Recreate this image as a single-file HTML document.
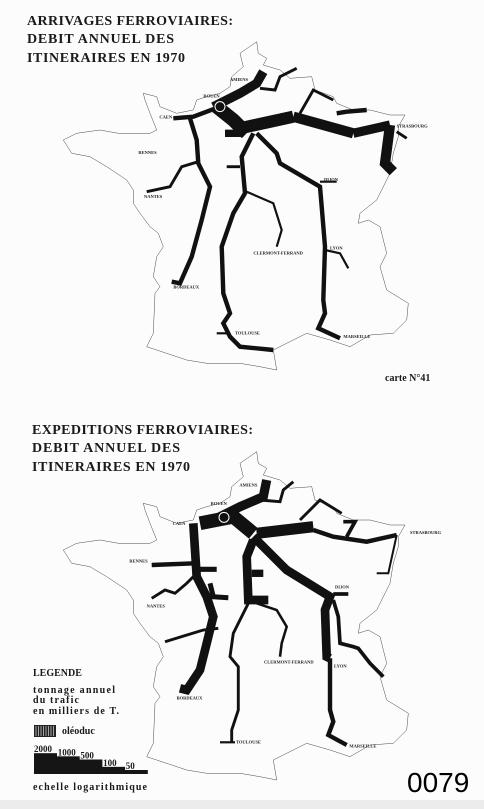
<!DOCTYPE html>
<html><head><meta charset="utf-8">
<style>
html,body{margin:0;padding:0;background:#fcfcfc;}
svg{display:block;}
.t{font-family:"Liberation Serif",serif;font-weight:bold;fill:#1a1a1a;}
.lab{font-family:"Liberation Serif",serif;font-size:4.5px;font-weight:bold;fill:#222;}
</style></head>
<body>
<svg id="svg" width="484" height="809" viewBox="0 0 484 809" xmlns="http://www.w3.org/2000/svg">
<rect width="484" height="809" fill="#fcfcfc"/>
<rect y="800" width="484" height="9" fill="#ececec"/>

<text class="t" x="27" y="25" font-size="14" textLength="206">ARRIVAGES FERROVIAIRES:</text>
<text class="t" x="27" y="43" font-size="14" textLength="147">DEBIT ANNUEL DES</text>
<text class="t" x="27" y="62" font-size="14" textLength="158">ITINERAIRES EN 1970</text>

<text class="t" x="32" y="434" font-size="14" textLength="221">EXPEDITIONS FERROVIAIRES:</text>
<text class="t" x="32" y="452" font-size="14" textLength="148">DEBIT ANNUEL DES</text>
<text class="t" x="32" y="471" font-size="14" textLength="158">ITINERAIRES EN 1970</text>

<text class="t" x="385" y="381" font-size="10">carte N°41</text>

<g id="topmap"></g>
<g id="botmap" transform="translate(0,410)"></g>

<g>
<text class="t" x="33" y="676" font-size="10">LEGENDE</text>
<text class="t" x="33" y="693" font-size="10" textLength="82">tonnage annuel</text>
<text class="t" x="33" y="703" font-size="10" textLength="46">du trafic</text>
<text class="t" x="33" y="714" font-size="10" textLength="86">en milliers de T.</text>
<rect x="34" y="725" width="22" height="12" fill="#222"/>
<g stroke="#ddd" stroke-width="0.7">
<line x1="36" y1="726" x2="36" y2="736"/><line x1="38.5" y1="726" x2="38.5" y2="736"/><line x1="41" y1="726" x2="41" y2="736"/><line x1="43.5" y1="726" x2="43.5" y2="736"/><line x1="46" y1="726" x2="46" y2="736"/><line x1="48.5" y1="726" x2="48.5" y2="736"/><line x1="51" y1="726" x2="51" y2="736"/><line x1="53.5" y1="726" x2="53.5" y2="736"/>
</g>
<text class="t" x="62" y="734" font-size="10">oléoduc</text>
<g id="scale"></g>
<text class="t" x="33" y="790" font-size="10" textLength="114">echelle logarithmique</text>
</g>

<text x="407" y="792" font-family="Liberation Sans, sans-serif" font-size="28" fill="#000">0079</text>
</svg>
<script>
// France outline (map coordinates, 3x units)
const outline = [[770,125],[775,160],[800,175],[790,195],[840,210],[870,235],[935,230],[945,270],[1000,290],[1010,310],[1060,330],[1110,330],[1170,345],[1215,345],[1195,380],[1195,410],[1180,460],[1170,520],[1130,600],[1080,640],[1075,670],[1105,660],[1140,680],[1160,760],[1140,800],[1160,870],[1225,910],[1220,960],[1180,1000],[1110,1005],[1050,1040],[990,1020],[920,1000],[860,1030],[820,1050],[830,1110],[780,1100],[720,1090],[620,1090],[560,1080],[470,1050],[440,1040],[460,1000],[465,880],[480,860],[460,830],[470,770],[490,740],[475,700],[450,680],[420,640],[400,610],[400,570],[380,540],[320,500],[270,470],[215,460],[190,420],[230,400],[300,390],[355,400],[430,400],[450,400],[470,390],[450,340],[435,300],[430,280],[470,290],[480,320],[530,340],[580,330],[590,300],[620,290],[660,280],[690,260],[695,230],[730,200],[720,160],[770,125]];

// Routes: tonnage (thousand T) per itinerary
const topTonnage = [800,2000,1500,1000,800,200,200,200,200,100,100,100,200,1000,60,100,60,60,60,100,500];
const topRoutes = [
 [[640,320],[720,280],[770,250],[790,215]],
 [[650,320],[700,360],[740,400]],
 [[720,385],[880,350]],
 [[880,350],[1060,400]],
 [[1060,400],[1170,375]],
 [[520,355],[580,350],[660,320]],
 [[570,355],[590,420],[595,490],[630,560],[605,660],[575,770],[540,850],[515,845]],
 [[760,400],[725,470],[735,580],[700,640],[665,740],[670,880],[690,940],[670,970],[690,1010],[720,1040],[820,1050]],
 [[770,400],[830,460],[840,490],[960,560],[965,620],[975,740],[970,900],[975,940],[955,985],[1020,1015]],
 [[440,575],[510,560],[545,500],[595,485]],
 [[780,265],[825,270],[840,230],[890,205]],
 [[900,340],[940,270],[1000,300]],
 [[1010,340],[1040,335],[1100,330]],
 [[1170,375],[1155,490],[1180,515]],
 [[740,575],[820,610],[845,690],[830,740]],
 [[680,500],[720,500]],
 [[975,750],[1020,760],[1045,805]],
 [[650,1000],[690,1000]],
 [[960,545],[1010,545]],
 [[1190,395],[1220,415]],
 [[675,400],[730,400]]
];
const botTonnage = [800,2000,700,200,100,250,100,250,200,1200,700,100,40,80,150,700,200,150,100,100,150,500,60];
const botRoutes = [
 [[640,330],[720,290],[790,260],[800,210]],
 [[600,340],[700,320],[760,370]],
 [[580,340],[590,500],[620,560],[640,620],[620,700],[600,780],[560,840],[540,835]],
 [[455,465],[585,460]],
 [[455,565],[495,540],[525,550],[560,520],[590,490]],
 [[630,520],[640,560],[685,563]],
 [[495,695],[610,660],[655,655]],
 [[600,478],[650,478]],
 [[940,360],[1000,380],[1100,395],[1190,375]],
 [[770,370],[940,350]],
 [[760,390],[740,440],[745,570],[805,570]],
 [[745,580],[700,670],[690,740],[715,770],[715,900],[695,960],[695,995]],
 [[1190,375],[1165,490],[1130,490]],
 [[770,580],[830,600],[860,650],[845,700],[840,740]],
 [[1000,570],[1015,620],[1020,700],[1060,710],[1075,715],[1110,760],[1150,800]],
 [[760,380],[850,470],[860,480],[990,560],[975,600],[980,740],[990,745]],
 [[990,745],[990,800],[990,900],[1000,935],[985,975],[1040,1005]],
 [[1000,552],[1045,552]],
 [[780,270],[840,275],[850,240],[880,215]],
 [[900,330],[960,270],[1025,310]],
 [[1030,335],[1065,335],[1040,380]],
 [[755,490],[790,490]],
 [[660,997],[705,997]]
];
const scaleValues = [2000,1000,500,100,50];
const scaleLabels = ["2000","1000","500","100","50"];

const NS = "http://www.w3.org/2000/svg";
function widthFor(t){ // log scale of tonnage -> stroke width (map units)
  const r = Math.max(0, Math.log10(t) - Math.log10(50));
  return 6 + r*6 + r*r*10;
}
function ptsStr(p){ return p.map(q => (q[0]/3).toFixed(1)+","+(q[1]/3).toFixed(1)).join(" "); }

function drawMap(gId, routes, tons, labels, circle){
  const g = document.getElementById(gId);
  const o = document.createElementNS(NS,"polygon");
  
  
  o.setAttribute("points", ptsStr(outline));
  o.setAttribute("fill","none"); o.setAttribute("stroke","#333"); o.setAttribute("stroke-width","0.45");
  g.appendChild(o);
  routes.forEach((r,i) => {
    const l = document.createElementNS(NS,"polyline");
    
    
    l.setAttribute("points", ptsStr(r));
    l.setAttribute("fill","none"); l.setAttribute("stroke","#111");
    l.setAttribute("stroke-width",(widthFor(tons[i])/3).toFixed(2));
    l.setAttribute("stroke-linejoin","miter");
    g.appendChild(l);
  });
  labels.forEach(lb => {
    const t = document.createElementNS(NS,"text");
    
    
    t.setAttribute("class","lab"); t.setAttribute("x",lb[1]/3); t.setAttribute("y",lb[2]/3);
    t.textContent = lb[0];
    g.appendChild(t);
  });
  const c = document.createElementNS(NS,"circle");
  
  
  c.setAttribute("cx",circle[0]/3); c.setAttribute("cy",circle[1]/3); c.setAttribute("r","5");
  c.setAttribute("fill","#111"); c.setAttribute("stroke","#fff"); c.setAttribute("stroke-width","1");
  g.appendChild(c);
}
const topLabels = [["AMIENS",690,243],["ROUEN",610,293],["CAEN",478,355],["RENNES",415,462],["NANTES",432,594],["BORDEAUX",520,866],["TOULOUSE",705,1004],["MARSEILLE",1030,1014],["LYON",990,748],["CLERMONT-FERRAND",760,763],["DIJON",972,543],["STRASBOURG",1190,383]];
const botLabels = [["AMIENS",718,230],["ROUEN",632,285],["CAEN",518,345],["RENNES",388,458],["NANTES",440,592],["BORDEAUX",530,868],["TOULOUSE",708,1000],["MARSEILLE",1048,1012],["LYON",1002,772],["CLERMONT-FERRAND",792,760],["DIJON",1005,535],["STRASBOURG",1230,372]];
drawMap("topmap", topRoutes, topTonnage, topLabels, [660,320]);
drawMap("botmap", botRoutes, botTonnage, botLabels, [672,322]);

// Legend staircase
const sg = document.getElementById("scale");
const x0 = 34, stepW = 22.7, base = 774;
scaleValues.forEach((v,i) => {
  const h = 4 + (Math.log10(v) - Math.log10(50)) * 10.5;
  const r = document.createElementNS(NS,"rect");
  
  
  r.setAttribute("x", x0 + i*stepW); r.setAttribute("y", base - h);
  r.setAttribute("width", stepW + 0.3); r.setAttribute("height", h);
  r.setAttribute("fill","#151515");
  sg.appendChild(r);
  const t = document.createElementNS(NS,"text");
  
  
  t.setAttribute("class","t"); t.setAttribute("font-size","9");
  t.setAttribute("x", x0 + i*stepW + (i===0?0:1)); t.setAttribute("y", base - h - 1);
  t.textContent = scaleLabels[i];
  sg.appendChild(t);
});
</script>
</body></html>
